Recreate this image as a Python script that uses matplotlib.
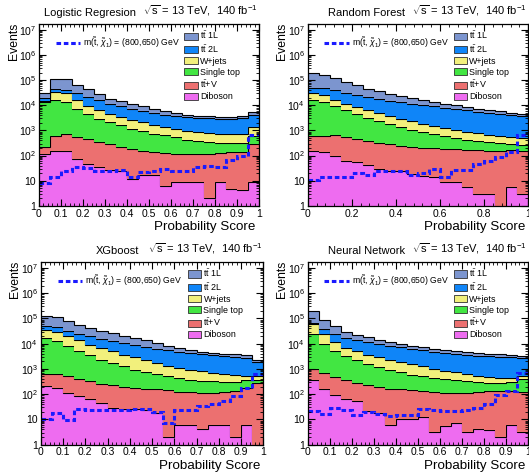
import numpy as np
import matplotlib
matplotlib.use('Agg')
import matplotlib.pyplot as plt
from matplotlib.patches import Patch
from matplotlib.lines import Line2D
from matplotlib.ticker import LogLocator, FuncFormatter, NullFormatter, MultipleLocator

plt.rcParams['font.family'] = ['Liberation Sans', 'DejaVu Sans']
plt.rcParams['mathtext.fontset'] = 'custom'
plt.rcParams['mathtext.rm'] = 'Liberation Sans'
plt.rcParams['mathtext.it'] = 'Liberation Sans:italic'
plt.rcParams['mathtext.bf'] = 'Liberation Sans:bold'

# 20 bins of probability score
edges = np.linspace(0, 1, 21)

# stacking order, bottom to top
proc_labels = ['Diboson', r'$\mathrm{t\bar{t}}$+V', 'Single top', 'W+jets',
               r'$\mathrm{t\bar{t}}$ 2L', r'$\mathrm{t\bar{t}}$ 1L']
proc_colors = ['#ee6cf0', '#ec7070', '#42e642', '#f2f07c', '#0f85f8', '#7c95cf']
signal_label = r'm($\tilde{\mathrm{t}}$, $\tilde{\chi}_{1}$) = (800,650) GeV'

# Logistic regression
lr_tt1l = [11850, 66550, 70640, 35980, 24910, 13460, 6830, 5330, 4300, 3190, 2200, 1510, 1050, 825, 645, 610, 590, 590, 610, 1270]
lr_tt2l = [5370, 12300, 11240, 14250, 12140, 9540, 7020, 5705, 4690, 3840, 3240, 2880, 2644, 2503, 2383, 2261, 2194, 2217, 2307, 2620]
lr_wjets = [1320, 17280, 17540, 9510, 4760, 3380, 2490, 1830, 1504, 1178, 954, 729, 555, 488, 458, 418, 415, 402, 402, 767]
lr_stop = [13365, 16295, 12844, 6819, 4203, 2589, 1875, 1370, 992, 763, 604, 507, 424, 307, 257, 224, 197, 175, 175, 300]
lr_ttv = [105, 430, 591, 467, 391, 307, 248, 190, 162, 132, 115, 118, 108, 108, 108, 115, 115, 131, 132, 284]
lr_diboson = [110, 145, 145, 74, 46, 34, 27.5, 25, 11.7, 17.4, 17.4, 5.75, 8.6, 8.6, 8.6, 1.85, 8.6, 4.6, 4.2, 8.6]
lr_signal = [7.8, 14.5, 23.6, 34.1, 32.1, 25.1, 25.1, 27.5, 14.5, 22.2, 23.6, 29.3, 25.1, 25.1, 34.1, 39.8, 34.1, 67.1, 100, 631]

# Random forest
rf_tt1l = [145400, 107600, 76900, 54600, 38000, 24900, 19500, 13930, 10430, 7980, 5540, 4460, 3590, 2870, 2260, 1780, 1380, 1110, 850, 780]
rf_tt2l = [19810, 25810, 22940, 19460, 16550, 15230, 12980, 11640, 10250, 9300, 8460, 7630, 6830, 6100, 5425, 4821, 4259, 4047, 3699, 3367]
rf_wjets = [15270, 11540, 7750, 5350, 4205, 3095, 2570, 2000, 1570, 1296, 993, 798, 665, 537, 461, 385, 340, 291, 257, 226]
rf_stop = [15275, 13005, 8449, 5769, 3915, 2841, 2049, 1465, 1116, 849, 654, 501, 396, 319, 255, 211, 173, 144, 126, 109]
rf_ttv = [417, 439, 571, 478, 396, 334, 282, 250, 219, 197, 187, 177, 170, 165, 164, 160, 155, 157, 153, 155]
rf_diboson = [158, 136, 100, 63, 54, 40, 29, 25, 25, 18.5, 15.8, 13.6, 8.6, 8.6, 5.4, 2.9, 2.9, 0.7, 5.4, 2.9]
rf_signal = [10.6, 13.6, 13.6, 13.6, 19.6, 17.4, 25, 25, 25, 17.4, 21, 29, 13.6, 27, 27, 44, 59, 86, 135, 630]

# XGboost
xgb_tt1l = [71700, 63900, 45500, 32100, 22040, 16860, 13280, 10080, 7900, 6160, 4270, 2880, 1850, 1170, 900, 830, 870, 930, 960, 370]
xgb_tt2l = [12600, 17500, 11240, 9720, 10320, 8990, 8140, 6940, 5960, 5180, 4625, 4105, 3596, 3348, 2981, 2765, 2525, 2383, 2174, 1316]
xgb_wjets = [18950, 14880, 11610, 9080, 5680, 4410, 3255, 2406, 1948, 1438, 1090, 841, 652, 563, 463, 369, 328, 290, 189, 135]
xgb_stop = [16095, 12465, 7336, 4897, 3134, 2076, 1499, 1079, 764, 600, 482, 374, 318, 259, 233, 213, 187, 176, 179, 99]
xgb_ttv = [448, 477, 401, 320, 264, 218, 197, 169, 153, 139, 135, 138, 118, 114, 109, 107, 114, 129, 172, 279]
xgb_diboson = [207, 178, 113, 83, 62, 45, 29, 26, 25, 23, 18, 1.9, 5.8, 5.8, 4.0, 5.8, 5.8, 1.9, 5.8, 0.6]
xgb_signal = [10.6, 18.3, 9.4, 26.4, 23.4, 22.7, 22.7, 22.7, 26.4, 26.4, 19.5, 7.4, 23.4, 23.4, 33.6, 39.1, 52.9, 83.4, 178, 655]

# Neural network
nn_tt1l = [123500, 50600, 23500, 12150, 8460, 6490, 4680, 3300, 2620, 1990, 1700, 1330, 1170, 1070, 980, 930, 870, 930, 790, 640]
nn_tt2l = [5700, 13100, 13510, 10000, 8560, 7610, 6720, 6000, 5490, 4775, 4186, 3800, 3431, 3172, 2935, 2814, 2677, 2538, 2448, 2206]
nn_wjets = [34900, 14800, 6310, 3590, 2780, 2055, 1780, 1398, 1152, 978, 760, 588, 480, 392, 319, 248, 203, 162, 144, 135]
nn_stop = [23800, 9305, 4497, 2803, 1920, 1399, 1005, 775, 585, 457, 383, 318, 266, 233, 203, 178, 149, 149, 167, 259]
nn_ttv = [643, 542, 395, 295, 227, 205, 177, 161, 142, 129, 118, 121, 108, 106, 110, 116, 127, 129, 125, 117]
nn_diboson = [357, 153, 88.5, 61.6, 52.9, 21.3, 18.3, 5.8, 10.6, 10.6, 12.7, 3.0, 5.5, 7.4, 3.2, 4.0, 3.7, 1.9, 5.8, 3.2]
nn_signal = [21.3, 15.8, 28.9, 23.4, 14.4, 19.5, 15.8, 13.5, 14.8, 14.8, 26.4, 22.7, 20.7, 22.0, 22.7, 28.9, 39.1, 88.5, 131, 695]

panels = [
    ('Logistic Regresion', [lr_diboson, lr_ttv, lr_stop, lr_wjets, lr_tt2l, lr_tt1l], lr_signal, 0.1),
    ('Random Forest', [rf_diboson, rf_ttv, rf_stop, rf_wjets, rf_tt2l, rf_tt1l], rf_signal, 0.2),
    ('XGboost', [xgb_diboson, xgb_ttv, xgb_stop, xgb_wjets, xgb_tt2l, xgb_tt1l], xgb_signal, 0.1),
    ('Neural Network', [nn_diboson, nn_ttv, nn_stop, nn_wjets, nn_tt2l, nn_tt1l], nn_signal, 0.1),
]

# axes rectangles (figure fraction)
rects = [
    [0.0737, 0.565, 0.416, 0.384],
    [0.5817, 0.565, 0.417, 0.384],
    [0.0770, 0.060, 0.421, 0.386],
    [0.5817, 0.060, 0.417, 0.386],
]


def ytick_fmt(v, pos):
    n = int(round(np.log10(v)))
    if n == 0:
        return '1'
    if n == 1:
        return '10'
    return r'$10^{%d}$' % n


def xtick_fmt(v, pos):
    if abs(v) < 1e-9:
        return '0'
    if abs(v - 1) < 1e-9:
        return '1'
    return ('%.1f' % v)


fig = plt.figure(figsize=(5.29, 4.73), dpi=100)

for (title, stack, signal, xstep), rect in zip(panels, rects):
    ax = fig.add_axes(rect)
    ax.set_yscale('log')

    base = np.full(len(edges) - 1, 0.1)
    for vals, col in zip(stack, proc_colors):
        top = base + np.array(vals, dtype=float)
        ax.stairs(top, edges, baseline=base, fill=True, color=col, lw=0)
        ax.stairs(top, edges, baseline=None, color='black', lw=0.8)
        base = top

    ax.stairs(signal, edges, baseline=None, color='#1a1aff', lw=2.2,
              ls=(0, (1.5, 0.9)))

    ax.set_xlim(0, 1)
    ax.set_ylim(1, 1.7e7)

    ax.xaxis.set_major_locator(MultipleLocator(xstep))
    ax.xaxis.set_minor_locator(MultipleLocator(xstep / 5))
    ax.xaxis.set_major_formatter(FuncFormatter(xtick_fmt))
    ax.yaxis.set_major_locator(LogLocator(base=10, numticks=10))
    ax.yaxis.set_minor_locator(LogLocator(base=10, subs=np.arange(2, 10), numticks=20))
    ax.yaxis.set_major_formatter(FuncFormatter(ytick_fmt))
    ax.yaxis.set_minor_formatter(NullFormatter())
    ax.tick_params(which='both', direction='in', top=True, right=True, labelsize=7.5, pad=2)
    ax.tick_params(which='major', length=5, width=0.8)
    ax.tick_params(which='minor', length=2.5, width=0.6)
    for sp in ax.spines.values():
        sp.set_linewidth(0.9)

    ax.text(0.44, 1.035, title, transform=ax.transAxes, ha='right', va='bottom', fontsize=8)
    ax.text(0.995, 1.035, r'$\sqrt{\mathrm{s}}$ = 13 TeV,  140 fb$^{-1}$', transform=ax.transAxes,
            ha='right', va='bottom', fontsize=8)
    ax.text(-0.115, 1.01, 'Events', transform=ax.transAxes, rotation=90,
            ha='center', va='top', fontsize=8.8)
    ax.text(0.985, -0.082, 'Probability Score', transform=ax.transAxes,
            ha='right', va='top', fontsize=9.6)

    # signal legend
    sig_leg = ax.legend([Line2D([], [], color='#1a1aff', lw=2.2, ls=(0, (1.5, 0.9)))], [signal_label],
                        loc='upper left', bbox_to_anchor=(0.06, 0.955), frameon=False, fontsize=6.2,
                        handlelength=2.8, handletextpad=0.4, borderaxespad=0)
    ax.add_artist(sig_leg)

    # background legend, top to bottom
    handles = [Patch(facecolor=c, edgecolor='#303030', lw=0.6) for c in proc_colors[::-1]]
    ax.legend(handles, proc_labels[::-1], loc='upper left', bbox_to_anchor=(0.645, 0.99),
              frameon=False, fontsize=6.4, handlelength=1.5, handleheight=0.85,
              handletextpad=0.25, labelspacing=0.22, borderaxespad=0)

fig.savefig('out.png', dpi=100)
